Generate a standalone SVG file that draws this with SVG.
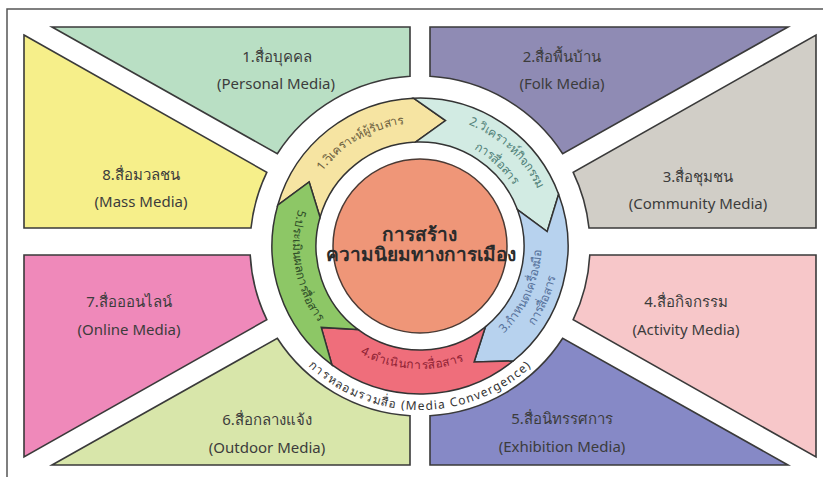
<svg xmlns="http://www.w3.org/2000/svg" width="823" height="477" viewBox="0 0 823 477">
  <style>
    .panel { stroke: #3a3a3a; stroke-width: 1.6; stroke-linejoin: miter; }
    .ptxt { font-family: "Noto Sans", "DejaVu Sans", sans-serif; font-size: 15px; fill: #3c3c3c; text-anchor: middle; }
    .arrow { stroke: #333; stroke-width: 1.5; stroke-linejoin: miter; }
    .atxt { font-family: "Noto Sans", "DejaVu Sans", sans-serif; font-size: 12px; text-anchor: middle; }
    .ctr { font-family: "Noto Sans", "DejaVu Sans", sans-serif; font-size: 19px; font-weight: bold; fill: #2b2b2b; text-anchor: middle; }
    .ring { font-family: "Noto Sans", "DejaVu Sans", sans-serif; font-size: 12px; fill: #333; text-anchor: middle; letter-spacing: 1.2px; }
  </style>
  <defs>
    <!-- baselines for the curved labels, centred on (420,246) -->
    <path id="p1" d="M308.5,194 A123,123 0 0 1 430.7,123.5"/>
    <path id="p2a" d="M449.48,118.35 A131,131 0 0 1 545.28,207.7"/>
    <path id="p2b" d="M445,137.8 A111,111 0 0 1 526.1,213.5"/>
    <path id="p3a" d="M494.5,341.35 A121,121 0 0 0 540.71,237.55"/>
    <path id="p3b" d="M505.58,355.53 A139,139 0 0 0 558.67,236.3"/>
    <path id="p4" d="M349.4,346.8 A123,123 0 0 0 475.8,355.6"/>
    <path id="p5" d="M300.7,202.6 A127,127 0 0 0 322.7,327.6"/>
    <path id="pring" d="M294.4,351.4 A164,164 0 0 0 545.6,351.4"/>
  </defs>

  <rect x="7" y="9" width="840" height="490" fill="#fff" stroke="#555" stroke-width="1.5"/>

  <g id="panels">
    <g id="panel-1">
      <path class="panel" fill="#b9dfc4" d="M52,27 L410,27 L410,76.3 A170,170 0 0 0 277.3,153.7 Z"/>
      <text class="ptxt" x="277" y="62">1.สื่อบุคคล</text>
      <text class="ptxt" x="276" y="89">(Personal Media)</text>
    </g>
    <g id="panel-2">
      <path class="panel" fill="#8f8bb4" d="M430,27 L788,27 L562.7,153.7 A170,170 0 0 0 430,76.3 Z"/>
      <text class="ptxt" x="562" y="62">2.สื่อพื้นบ้าน</text>
      <text class="ptxt" x="562" y="89">(Folk Media)</text>
    </g>
    <g id="panel-3">
      <path class="panel" fill="#d1cec7" d="M816,35 L816,228 L589,228 A170,170 0 0 0 573.2,172.3 Z"/>
      <text class="ptxt" x="698" y="182">3.สื่อชุมชน</text>
      <text class="ptxt" x="698" y="209">(Community Media)</text>
    </g>
    <g id="panel-4">
      <path class="panel" fill="#f7c7c9" d="M589.8,255 L816,255 L816,457 L573.2,319.7 A170,170 0 0 0 589.8,255 Z"/>
      <text class="ptxt" x="686" y="307">4.สื่อกิจกรรม</text>
      <text class="ptxt" x="686" y="335">(Activity Media)</text>
    </g>
    <g id="panel-5">
      <path class="panel" fill="#8689c6" d="M430,465 L788,465 L562.7,338.3 A170,170 0 0 1 430,415.7 Z"/>
      <text class="ptxt" x="562" y="424">5.สื่อนิทรรศการ</text>
      <text class="ptxt" x="562" y="452">(Exhibition Media)</text>
    </g>
    <g id="panel-6">
      <path class="panel" fill="#d8e6aa" d="M277.3,338.3 A170,170 0 0 0 410,415.7 L410,465 L52,465 Z"/>
      <text class="ptxt" x="267" y="425">6.สื่อกลางแจ้ง</text>
      <text class="ptxt" x="267" y="453">(Outdoor Media)</text>
    </g>
    <g id="panel-7">
      <path class="panel" fill="#ef89ba" d="M24,255 L250.2,255 A170,170 0 0 0 266.8,319.7 L24,457 Z"/>
      <text class="ptxt" x="129" y="307">7.สื่อออนไลน์</text>
      <text class="ptxt" x="129" y="335">(Online Media)</text>
    </g>
    <g id="panel-8">
      <path class="panel" fill="#f6ef8a" d="M24,35 L266.8,172.3 A170,170 0 0 0 251,228 L24,228 Z"/>
      <text class="ptxt" x="141" y="180">8.สื่อมวลชน</text>
      <text class="ptxt" x="141" y="207">(Mass Media)</text>
    </g>
  </g>

  <g id="convergence-label">
    <text class="ring"><textPath href="#pring" startOffset="50%">การหลอมรวมสื่อ (Media Convergence)</textPath></text>
  </g>

  <g id="cycle-arrows">
    <g id="step-1">
      <path class="arrow" fill="#f6e4a2" d="M277.73,205.21 A148,148 0 0 1 413.54,98.14 L445.52,120.57 L415.46,142.1 A104,104 0 0 0 320.03,217.33 L309.15,182 Z"/>
      <text class="atxt" fill="#6a5c3c" font-size="11.5"><textPath href="#p1" startOffset="50%">1.วิเคราะห์ผู้รับสาร</textPath></text>
    </g>
    <g id="step-2">
      <path class="arrow" fill="#d2ebe3" d="M413.54,98.14 A148,148 0 0 1 558.63,194.17 L547.18,231.51 L517.41,209.58 A104,104 0 0 0 415.46,142.1 L445.52,120.57 Z"/>
      <text class="atxt" fill="#4f7f77"><textPath href="#p2a" startOffset="50%">2.วิเคราะห์กิจกรรม</textPath></text>
      <text class="atxt" fill="#4f7f77"><textPath href="#p2b" startOffset="50%">การสื่อสาร</textPath></text>
    </g>
    <g id="step-3">
      <path class="arrow" fill="#b7d2ee" d="M558.63,194.17 A148,148 0 0 1 513.14,361.02 L474.1,362.01 L485.45,326.82 A104,104 0 0 0 517.41,209.58 L547.18,231.51 Z"/>
      <text class="atxt" fill="#55709a"><textPath href="#p3a" startOffset="50%">3.กำหนดเครื่องมือ</textPath></text>
      <text class="atxt" fill="#55709a"><textPath href="#p3b" startOffset="50%">การสื่อสาร</textPath></text>
    </g>
    <g id="step-4">
      <path class="arrow" fill="#ef6e7b" d="M513.14,361.02 A148,148 0 0 1 331.97,364.97 L321.23,327.42 L358.14,329.6 A104,104 0 0 0 485.45,326.82 L474.1,362.01 Z"/>
      <text class="atxt" fill="#8e1f33" letter-spacing="0.6"><textPath href="#p4" startOffset="50%">4.ดำเนินการสื่อสาร</textPath></text>
    </g>
    <g id="step-5">
      <path class="arrow" fill="#8dc766" d="M331.97,364.97 A148,148 0 0 1 277.73,205.21 L309.15,182 L320.03,217.33 A104,104 0 0 0 358.14,329.6 L321.23,327.42 Z"/>
      <text class="atxt" fill="#2f4d28"><textPath href="#p5" startOffset="50%">5.ประเมินผลการสื่อสาร</textPath></text>
    </g>
  </g>

  <g id="core">
    <circle cx="420" cy="246" r="87" fill="#ef9678" stroke="#4a3a34" stroke-width="1.5"/>
    <text class="ctr" x="419" y="241">การสร้าง</text>
    <text class="ctr" x="421" y="261">ความนิยมทางการเมือง</text>
  </g>
</svg>
